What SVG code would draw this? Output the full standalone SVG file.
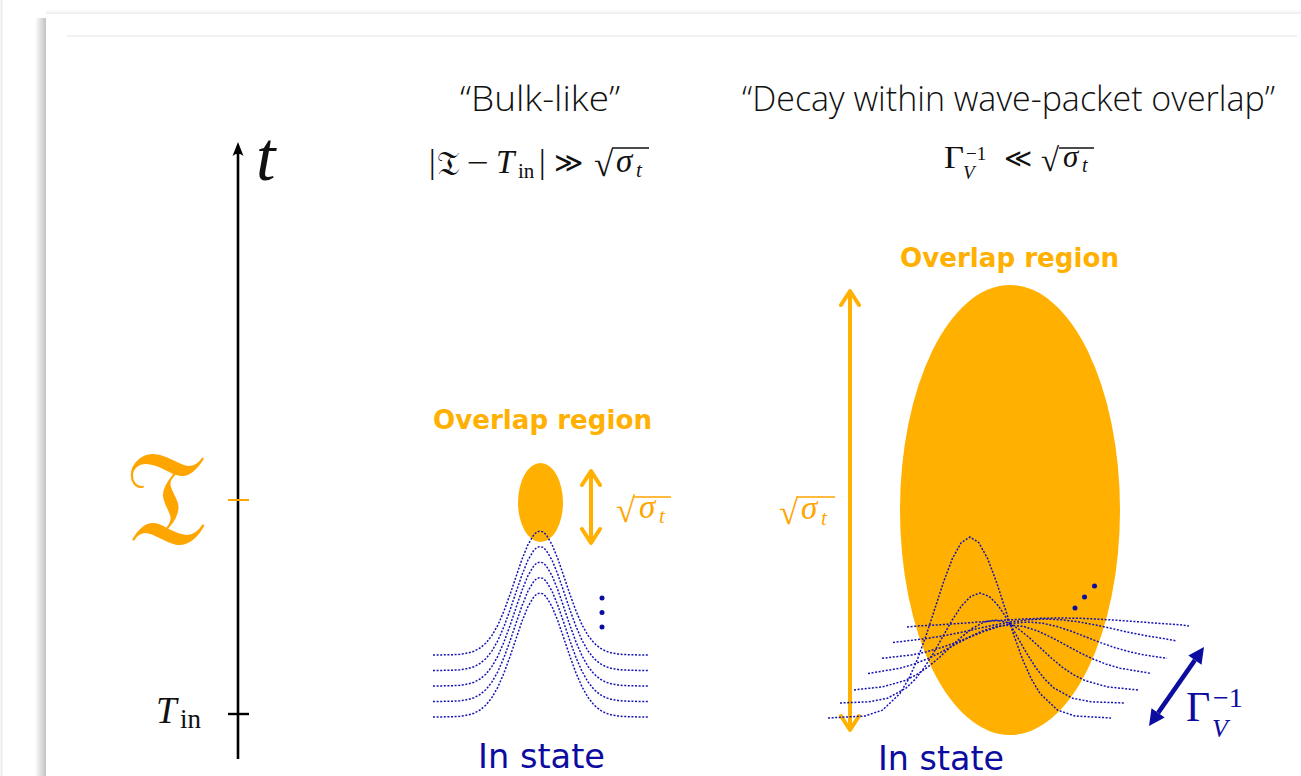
<svg xmlns="http://www.w3.org/2000/svg" width="1301" height="776" viewBox="0 0 1301 776">
<style>
.serif{font-family:"Liberation Serif","DejaVu Serif",serif}
.it{font-style:italic}
.title{font-family:"Open Sans","Liberation Sans",sans-serif;font-weight:300;font-size:35px;fill:#111}
.ovl{font-family:"DejaVu Sans","Verdana",sans-serif;font-weight:bold;font-size:26px;fill:#FFB000}
.instate{font-family:"DejaVu Sans","Verdana",sans-serif;font-size:34px;fill:#0c0ca0}
.om{fill:#FFA500}
.frak{font-family:"DejaVu Serif","DejaVu Sans","Noto Sans",serif}
.wave{fill:none;stroke:#1414b4;stroke-width:1.5;stroke-dasharray:2 1.6}
.oarrow{fill:none;stroke:#FFB000;stroke-width:4;stroke-linecap:round;stroke-linejoin:round}
.rad{stroke-width:1.3}
</style>
<defs>
<linearGradient id="shL" x1="0" x2="1" y1="0" y2="0"><stop offset="0" stop-color="#ffffff"/><stop offset="1" stop-color="#c2c2c2"/></linearGradient>
<linearGradient id="shT" x1="0" x2="0" y1="0" y2="1"><stop offset="0" stop-color="#ffffff"/><stop offset="1" stop-color="#ececec"/></linearGradient>
<path id="g1" d="M-107,0 L-90,-0.2 L-80,-0.7 L-72,-2 L-66,-3.8 L-60,-7 L-54,-12 L-48,-19.6 L-42,-30.2 L-36,-44 L-30,-60.4 L-24,-78.2 L-18,-95.7 L-12,-110.5 L-6,-120.5 L-3,-123.1 L0,-124 L3,-123.1 L6,-120.5 L12,-110.5 L18,-95.7 L24,-78.2 L30,-60.4 L36,-44 L42,-30.2 L48,-19.6 L54,-12 L60,-7 L66,-3.8 L72,-2 L80,-0.7 L90,-0.2 L108,0"/>
</defs>
<rect x="0" y="0" width="1301" height="776" fill="#ffffff"/>
<g id="frame">
<line x1="1.5" y1="0" x2="1.5" y2="776" stroke="#ececec" stroke-width="2"/>
<rect x="35" y="18" width="11" height="758" fill="url(#shL)"/>
<rect x="46" y="10" width="1255" height="4" fill="url(#shT)"/>
<line x1="67" y1="36" x2="1297" y2="36" stroke="#ececec" stroke-width="1.5"/>
</g>
<g id="axis">
<line x1="238" y1="759" x2="238" y2="150" stroke="#000" stroke-width="2.6"/>
<path d="M238,142 L232.5,156 Q238,151.5 243.5,156 Z" fill="#000"/>
<text x="256" y="180" class="serif it" font-size="70" fill="#111">t</text>
<line x1="228" y1="500" x2="249" y2="500" stroke="#FFA500" stroke-width="2"/>
<line x1="228" y1="714" x2="249" y2="714" stroke="#000" stroke-width="2.4"/>
<text x="126" y="544" class="frak om" font-size="135" textLength="80" lengthAdjust="spacingAndGlyphs">𝔗</text>
<text class="serif" fill="#111"><tspan x="156" y="723" class="it" font-size="37">T</tspan><tspan x="180" y="728" font-size="27">in</tspan></text>
</g>
<g id="titles">
<text x="460" y="111" class="title" textLength="160" lengthAdjust="spacingAndGlyphs">“Bulk-like”</text>
<text x="742" y="111" class="title" textLength="533" lengthAdjust="spacingAndGlyphs">“Decay within wave-packet overlap”</text>
</g>
<g id="formula-left" class="serif" fill="#111">
<text x="429" y="173" font-size="33">|</text>
<text x="437" y="175" class="frak" font-size="34" textLength="23" lengthAdjust="spacingAndGlyphs">𝔗</text>
<text x="467" y="172" font-size="28" textLength="22" lengthAdjust="spacingAndGlyphs">−</text>
<text x="496" y="173" font-size="33" class="it">T</text>
<text x="518" y="178" font-size="21">in</text>
<text x="539" y="173" font-size="33">|</text>
<text x="554" y="172" font-size="28" textLength="29" lengthAdjust="spacingAndGlyphs">≫</text>
<text x="594" y="176" font-size="35">√</text>
<line x1="612" y1="148" x2="649" y2="148" stroke="#111" class="rad"/>
<text x="616" y="172" font-size="33" class="it">σ</text>
<text x="636" y="177" font-size="21" class="it">t</text>
</g>
<g id="formula-right" class="serif" fill="#111">
<text x="944" y="168" font-size="31" textLength="20" lengthAdjust="spacingAndGlyphs">Γ</text>
<text x="966" y="160" font-size="19">−1</text>
<text x="963" y="179" font-size="19" class="it">V</text>
<text x="1004" y="167" font-size="26" textLength="28" lengthAdjust="spacingAndGlyphs">≪</text>
<text x="1041" y="171" font-size="33">√</text>
<line x1="1059" y1="148" x2="1094" y2="148" stroke="#111" class="rad"/>
<text x="1063" y="167" font-size="31" class="it">σ</text>
<text x="1082" y="172" font-size="20" class="it">t</text>
</g>
<g id="left-panel">
<text x="433" y="429" class="ovl" textLength="219" lengthAdjust="spacingAndGlyphs">Overlap region</text>
<ellipse cx="540.5" cy="502.5" rx="22.5" ry="39.5" fill="#FFB000"/>
<path class="oarrow" d="M591,472 L591,542 M582,485 L591,471 L600,485 M582,529 L591,543 L600,529"/>
<g class="om serif">
<text x="616" y="522" font-size="35">√</text>
<text x="639" y="518" font-size="33" class="it">σ</text>
<text x="659" y="523" font-size="21" class="it">t</text>
</g>
<line x1="634" y1="497" x2="671" y2="497" stroke="#FFA500" class="rad"/>
<g id="left-waves">
<use href="#g1" class="wave" transform="translate(540,655)"/>
<use href="#g1" class="wave" transform="translate(540,670.5)"/>
<use href="#g1" class="wave" transform="translate(540,686)"/>
<use href="#g1" class="wave" transform="translate(540,701.5)"/>
<use href="#g1" class="wave" transform="translate(540,717)"/>
</g>
<circle cx="602" cy="598" r="2.5" fill="#0c0ca0"/>
<circle cx="602" cy="612.5" r="2.5" fill="#0c0ca0"/>
<circle cx="602" cy="627" r="2.5" fill="#0c0ca0"/>
<text x="478" y="768" class="instate" textLength="127" lengthAdjust="spacingAndGlyphs">In state</text>
</g>
<g id="right-panel">
<text x="900" y="267" class="ovl" textLength="219" lengthAdjust="spacingAndGlyphs">Overlap region</text>
<ellipse cx="1010" cy="510" rx="110" ry="225" fill="#FFB000"/>
<path class="oarrow" d="M850,292 L850,728 M841,305 L850,291 L859,305 M841,716 L850,730 L859,716"/>
<g class="om serif">
<text x="779" y="524" font-size="35">√</text>
<text x="801" y="519" font-size="33" class="it">σ</text>
<text x="821" y="525" font-size="21" class="it">t</text>
</g>
<line x1="797" y1="497" x2="835" y2="497" stroke="#FFA500" class="rad"/>
<g id="right-waves">
<path class="wave" d="M828,718 L865,716 L882.5,710.1 L900,693.5 L908.75,678.8 L917.5,659.2 L926.25,635.1 L935,608.2 L943.75,581.4 L952.5,558.3 L961.25,542.6 L970,537 L978.75,542.6 L987.5,558.3 L996.25,581.4 L1005,608.2 L1013.75,635.1 L1022.5,659.2 L1031.25,678.8 L1040,693.5 L1057.5,710.1 L1075,716 L1111,718"/>
<path class="wave" d="M840,703 L869,701.8 L887.5,698.2 L906,688.1 L915.25,679.2 L924.5,667.3 L933.75,652.6 L943,636.3 L952.25,620 L961.5,605.9 L970.75,596.4 L980,593 L989.25,596.4 L998.5,605.9 L1007.75,620 L1017,636.3 L1026.25,652.6 L1035.5,667.3 L1044.75,679.2 L1054,688.1 L1072.5,698.2 L1091,701.8 L1124,703"/>
<path class="wave" d="M854,690 L860,689.2 L882.5,686.9 L905,680.5 L916.25,674.9 L927.5,667.3 L938.75,658 L950,647.5 L961.25,637.2 L972.5,628.2 L983.75,622.2 L995,620 L1006.25,622.2 L1017.5,628.2 L1028.75,637.2 L1040,647.5 L1051.25,658 L1062.5,667.3 L1073.75,674.9 L1085,680.5 L1107.5,686.9 L1130,689.2 L1139,690"/>
<path class="wave" d="M868,673.5 L872.5,672.8 L900,668.2 L913.75,664.2 L927.5,658.8 L941.25,652.1 L955,644.7 L968.75,637.3 L982.5,630.9 L996.25,626.5 L1010,625 L1023.75,626.5 L1037.5,630.9 L1051.25,637.3 L1065,644.7 L1078.75,652.1 L1092.5,658.8 L1106.25,664.2 L1120,668.2 L1147.5,672.8 L1151,673.5"/>
<path class="wave" d="M882,658.3 L912,654.9 L926.5,651.8 L941,647.7 L955.5,642.6 L970,637 L984.5,631.3 L999,626.5 L1013.5,623.2 L1028,622 L1042.5,623.2 L1057,626.5 L1071.5,631.3 L1086,637 L1100.5,642.6 L1115,647.7 L1129.5,651.8 L1144,654.9 L1167,658.3"/>
<path class="wave" d="M893,642.5 L909,640.6 L926,638.6 L943,635.9 L960,632.6 L977,628.8 L994,625.1 L1011,621.9 L1028,619.8 L1045,619 L1062,619.8 L1079,621.9 L1096,625.1 L1113,628.8 L1130,632.6 L1147,635.9 L1164,638.6 L1177,641"/>
<path class="wave" d="M907,627 L920,625.8 L940,624.8 L960,623.4 L980,621.9 L1000,620.5 L1020,619.2 L1040,618.3 L1060,618 L1080,618.3 L1100,619.2 L1120,620.5 L1140,621.9 L1160,623.4 L1180,624.8 L1189,626"/>
</g>
<circle cx="1075" cy="608" r="2.5" fill="#0c0ca0"/>
<circle cx="1084.5" cy="597" r="2.5" fill="#0c0ca0"/>
<circle cx="1094.5" cy="586" r="2.5" fill="#0c0ca0"/>
<text x="878" y="770" class="instate" textLength="126" lengthAdjust="spacingAndGlyphs">In state</text>
</g>
<g id="gamma-arrow">
<line x1="1158.1" y1="712.9" x2="1194.9" y2="660.1" stroke="#0c0ca0" stroke-width="4.5"/>
<path d="M1204,647 L1201.5,664.7 L1188.3,655.5 Z M1149,726 L1151.5,708.3 L1164.7,717.5 Z" fill="#0c0ca0"/>
<text class="serif" fill="#0c0ca0"><tspan x="1186" y="721" font-size="42">Γ</tspan><tspan x="1213" y="707" font-size="28">−1</tspan><tspan x="1212" y="737" font-size="26" class="it">V</tspan></text>
</g>
</svg>
